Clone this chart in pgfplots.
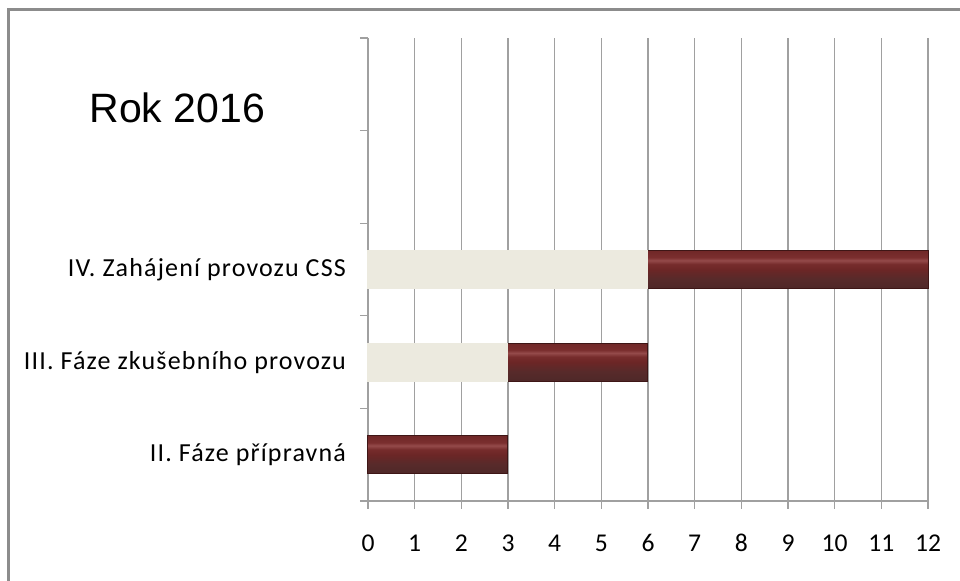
\documentclass[border=0pt]{standalone}
\usepackage{pgfplots}
\pgfplotsset{compat=1.18}
\usepackage{fontspec}
\setmainfont{Carlito}
\newfontfamily\labfont[LetterSpace=4.5]{Carlito}
\newfontfamily\arialfont{Liberation Sans}
\definecolor{beige}{HTML}{ECEADF}
\definecolor{axc}{HTML}{A0A0A0}
\definecolor{frame}{HTML}{8C8C8C}
\definecolor{barD}{HTML}{3E1616}
\pgfdeclareverticalshading{bevel}{100bp}{%
  color(0bp)=(rgb,255:red,78;green,40;blue,40);
  color(25bp)=(rgb,255:red,78;green,40;blue,40);
  color(38bp)=(rgb,255:red,88;green,42;blue,42);
  color(50bp)=(rgb,255:red,108;green,38;blue,38);
  color(57bp)=(rgb,255:red,118;green,44;blue,44);
  color(62bp)=(rgb,255:red,148;green,74;blue,74);
  color(66bp)=(rgb,255:red,122;green,46;blue,46);
  color(75bp)=(rgb,255:red,112;green,40;blue,40);
  color(100bp)=(rgb,255:red,112;green,40;blue,40)}
\begin{document}
\begin{tikzpicture}
\useasboundingbox (0,0) rectangle (480pt,290.5pt);
\draw[color=frame, line width=1.1pt] (4.25pt,0) -- (4.25pt,285.75pt) -- (480pt,285.75pt);
\node[anchor=base west, inner sep=0pt, font=\arialfont\fontsize{20.5}{24}\selectfont] at (44.5pt,229pt) {Rok 2016};
\begin{axis}[
  at={(184pt,40pt)}, anchor=south west, scale only axis,
  width=280pt, height=231.5pt,
  xmin=0, xmax=12, ymin=-0.5, ymax=4.5,
  xbar, bar width=0.41, bar shift=0pt,
  clip=false,
  axis x line*=bottom, axis y line*=left,
  axis line style={draw=axc, line width=0.6pt, -},
  xtick={0,...,12}, xmajorgrids,
  grid style={axc, line width=0.6pt},
  tick align=outside, major tick length=4pt,
  tick style={axc, line width=0.6pt},
  ytick={-0.5,0.5,...,4.5}, yticklabels={},
  extra y ticks={0,1,2},
  extra y tick labels={II. Fáze přípravná, III. Fáze zkušebního provozu, IV. Zahájení provozu CSS},
  extra y tick style={major tick length=0pt, yticklabel style={xshift=-7.5pt, font=\labfont\fontsize{13}{15}\selectfont}},
  tick label style={font=\fontsize{12.8}{15}\selectfont},
  xticklabel style={anchor=north, text height=8.2pt, text depth=0pt, yshift=-9.5pt},
  /pgf/number format/assume math mode=true,
]
% bar end positions (start + duration): II. 0+3, III. 3+3, IV. 6+6
\addplot[draw=barD, line width=0.5pt, shading=bevel] coordinates {(3,0)};
\addplot[draw=barD, line width=0.5pt, shading=bevel] coordinates {(6,1)};
\addplot[draw=barD, line width=0.5pt, shading=bevel] coordinates {(12,2)};
% invisible lead-in (start offsets)
\addplot[fill=beige, draw=beige, line width=0.5pt] coordinates {(3,1) (6,2)};
\end{axis}
\end{tikzpicture}
\end{document}
